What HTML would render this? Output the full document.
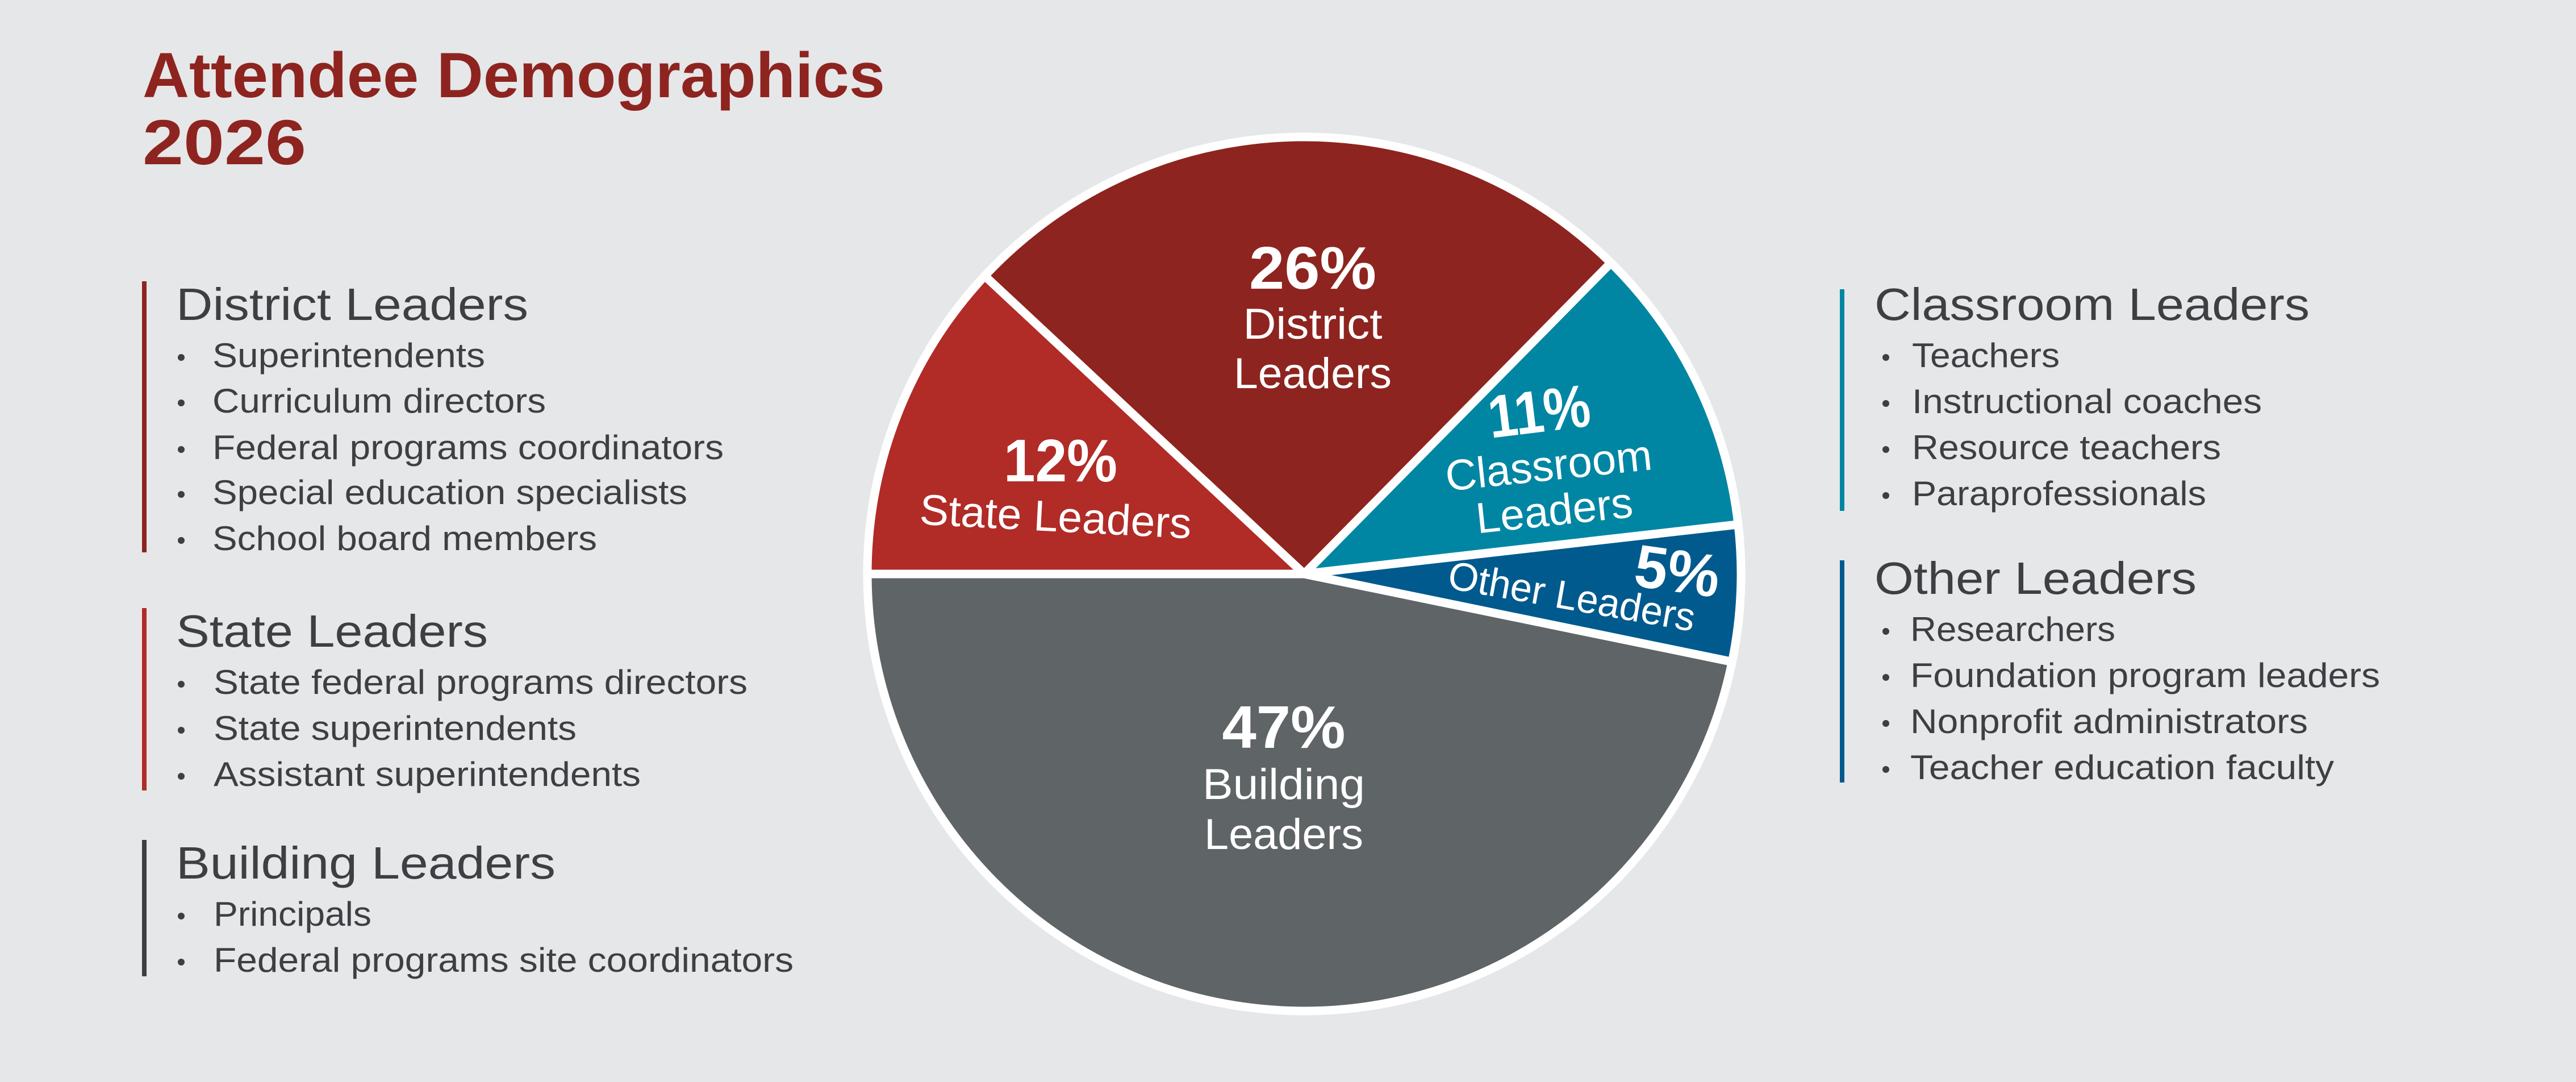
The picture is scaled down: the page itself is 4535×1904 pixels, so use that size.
<!DOCTYPE html>
<html><head><meta charset="utf-8"><style>
html,body{margin:0;padding:0;background:#e6e7e9;}
svg{display:block;}
text{font-family:"Liberation Sans",sans-serif;}
.h{font-size:80px;fill:#3d3f42;}
.i{font-size:60px;fill:#3d3f42;}
.w{fill:#fff;}
</style></head><body>
<svg width="4535" height="1904" viewBox="0 0 4535 1904" xmlns="http://www.w3.org/2000/svg">
<rect width="4535" height="1904" fill="#e6e7e9"/>
<text x="251" y="171" font-size="112" font-weight="bold" fill="#8e241f" textLength="1307" lengthAdjust="spacingAndGlyphs">Attendee Demographics</text>
<text x="251" y="289" font-size="112" font-weight="bold" fill="#8e241f" textLength="288" lengthAdjust="spacingAndGlyphs">2026</text>

<!-- District -->
<rect x="250" y="495" width="8" height="477" fill="#8e241f"/>
<text class="h" x="310" y="563" textLength="620" lengthAdjust="spacingAndGlyphs">District Leaders</text>
<circle cx="319" cy="629" r="6" fill="#3d3f42"/><text class="i" x="374" y="646" textLength="480" lengthAdjust="spacingAndGlyphs">Superintendents</text>
<circle cx="319" cy="709" r="6" fill="#3d3f42"/><text class="i" x="374" y="726" textLength="587" lengthAdjust="spacingAndGlyphs">Curriculum directors</text>
<circle cx="319" cy="791" r="6" fill="#3d3f42"/><text class="i" x="374" y="808" textLength="900" lengthAdjust="spacingAndGlyphs">Federal programs coordinators</text>
<circle cx="319" cy="870" r="6" fill="#3d3f42"/><text class="i" x="374" y="887" textLength="836" lengthAdjust="spacingAndGlyphs">Special education specialists</text>
<circle cx="319" cy="951" r="6" fill="#3d3f42"/><text class="i" x="374" y="968" textLength="677" lengthAdjust="spacingAndGlyphs">School board members</text>

<!-- State -->
<rect x="250" y="1070" width="8" height="321" fill="#b12b27"/>
<text class="h" x="310" y="1138" textLength="549" lengthAdjust="spacingAndGlyphs">State Leaders</text>
<circle cx="319" cy="1204" r="6" fill="#3d3f42"/><text class="i" x="376" y="1221" textLength="940" lengthAdjust="spacingAndGlyphs">State federal programs directors</text>
<circle cx="319" cy="1285" r="6" fill="#3d3f42"/><text class="i" x="376" y="1302" textLength="639" lengthAdjust="spacingAndGlyphs">State superintendents</text>
<circle cx="319" cy="1366" r="6" fill="#3d3f42"/><text class="i" x="376" y="1383" textLength="752" lengthAdjust="spacingAndGlyphs">Assistant superintendents</text>

<!-- Building -->
<rect x="250" y="1478" width="8" height="240" fill="#3d3f42"/>
<text class="h" x="310" y="1546" textLength="668" lengthAdjust="spacingAndGlyphs">Building Leaders</text>
<circle cx="319" cy="1612" r="6" fill="#3d3f42"/><text class="i" x="376" y="1629" textLength="278" lengthAdjust="spacingAndGlyphs">Principals</text>
<circle cx="319" cy="1693" r="6" fill="#3d3f42"/><text class="i" x="376" y="1710" textLength="1021" lengthAdjust="spacingAndGlyphs">Federal programs site coordinators</text>

<!-- Classroom -->
<rect x="3239" y="509" width="8" height="390" fill="#0086a3"/>
<text class="h" x="3300" y="563" textLength="766" lengthAdjust="spacingAndGlyphs">Classroom Leaders</text>
<circle cx="3320" cy="629" r="6" fill="#3d3f42"/><text class="i" x="3366" y="646" textLength="260" lengthAdjust="spacingAndGlyphs">Teachers</text>
<circle cx="3320" cy="710" r="6" fill="#3d3f42"/><text class="i" x="3366" y="727" textLength="616" lengthAdjust="spacingAndGlyphs">Instructional coaches</text>
<circle cx="3320" cy="791" r="6" fill="#3d3f42"/><text class="i" x="3366" y="808" textLength="544" lengthAdjust="spacingAndGlyphs">Resource teachers</text>
<circle cx="3320" cy="872" r="6" fill="#3d3f42"/><text class="i" x="3366" y="889" textLength="518" lengthAdjust="spacingAndGlyphs">Paraprofessionals</text>

<!-- Other -->
<rect x="3239" y="986" width="8" height="391" fill="#005a8e"/>
<text class="h" x="3300" y="1045" textLength="567" lengthAdjust="spacingAndGlyphs">Other Leaders</text>
<circle cx="3320" cy="1111" r="6" fill="#3d3f42"/><text class="i" x="3363" y="1128" textLength="361" lengthAdjust="spacingAndGlyphs">Researchers</text>
<circle cx="3320" cy="1192" r="6" fill="#3d3f42"/><text class="i" x="3363" y="1209" textLength="827" lengthAdjust="spacingAndGlyphs">Foundation program leaders</text>
<circle cx="3320" cy="1273" r="6" fill="#3d3f42"/><text class="i" x="3363" y="1290" textLength="700" lengthAdjust="spacingAndGlyphs">Nonprofit administrators</text>
<circle cx="3320" cy="1354" r="6" fill="#3d3f42"/><text class="i" x="3363" y="1371" textLength="746" lengthAdjust="spacingAndGlyphs">Teacher education faculty</text>

<!-- Pie -->
<g stroke="#fff" stroke-width="15" stroke-linejoin="round">
<path d="M2296,1010 L1733.6,485.5 A769,769 0 0 1 2836,462.5 Z" fill="#8e241f"/>
<path d="M2296,1010 L2836,462.5 A769,769 0 0 1 3060.1,922.9 Z" fill="#0086a3"/>
<path d="M2296,1010 L3060.1,922.9 A769,769 0 0 1 3049.3,1164.6 Z" fill="#005a8e"/>
<path d="M2296,1010 L3049.3,1164.6 A769,769 0 0 1 1527,1010 Z" fill="#5f6466"/>
<path d="M2296,1010 L1527,1010 A769,769 0 0 1 1733.6,485.5 Z" fill="#b12b27"/>
</g>

<g class="w" text-anchor="middle">
<text x="2311" y="508" font-size="106" font-weight="bold" textLength="224" lengthAdjust="spacingAndGlyphs">26%</text>
<text x="2311" y="596" font-size="76" textLength="245" lengthAdjust="spacingAndGlyphs">District</text>
<text x="2311" y="683" font-size="76" textLength="278" lengthAdjust="spacingAndGlyphs">Leaders</text>

<text x="1867" y="847" font-size="106" font-weight="bold" textLength="200" lengthAdjust="spacingAndGlyphs">12%</text>
<text x="1857" y="935" font-size="76" textLength="479" lengthAdjust="spacingAndGlyphs" transform="rotate(3 1857 935)">State Leaders</text>

<text x="2714" y="760" font-size="106" font-weight="bold" textLength="180" lengthAdjust="spacingAndGlyphs" transform="rotate(-7 2714 760)">11%</text>
<text x="2729" y="845" font-size="76" textLength="365" lengthAdjust="spacingAndGlyphs" transform="rotate(-6 2729 845)">Classroom</text>
<text x="2739" y="924" font-size="76" textLength="277" lengthAdjust="spacingAndGlyphs" transform="rotate(-6 2739 924)">Leaders</text>

<text x="2948" y="1041" font-size="106" font-weight="bold" textLength="150" lengthAdjust="spacingAndGlyphs" transform="rotate(8 2948 1041)">5%</text>
<text x="2763" y="1073" font-size="70" textLength="440" lengthAdjust="spacingAndGlyphs" transform="rotate(10 2763 1073)">Other Leaders</text>

<text x="2260" y="1316" font-size="106" font-weight="bold" textLength="217" lengthAdjust="spacingAndGlyphs">47%</text>
<text x="2260" y="1406" font-size="76" textLength="286" lengthAdjust="spacingAndGlyphs">Building</text>
<text x="2260" y="1494" font-size="76" textLength="280" lengthAdjust="spacingAndGlyphs">Leaders</text>
</g>
</svg>
</body></html>
